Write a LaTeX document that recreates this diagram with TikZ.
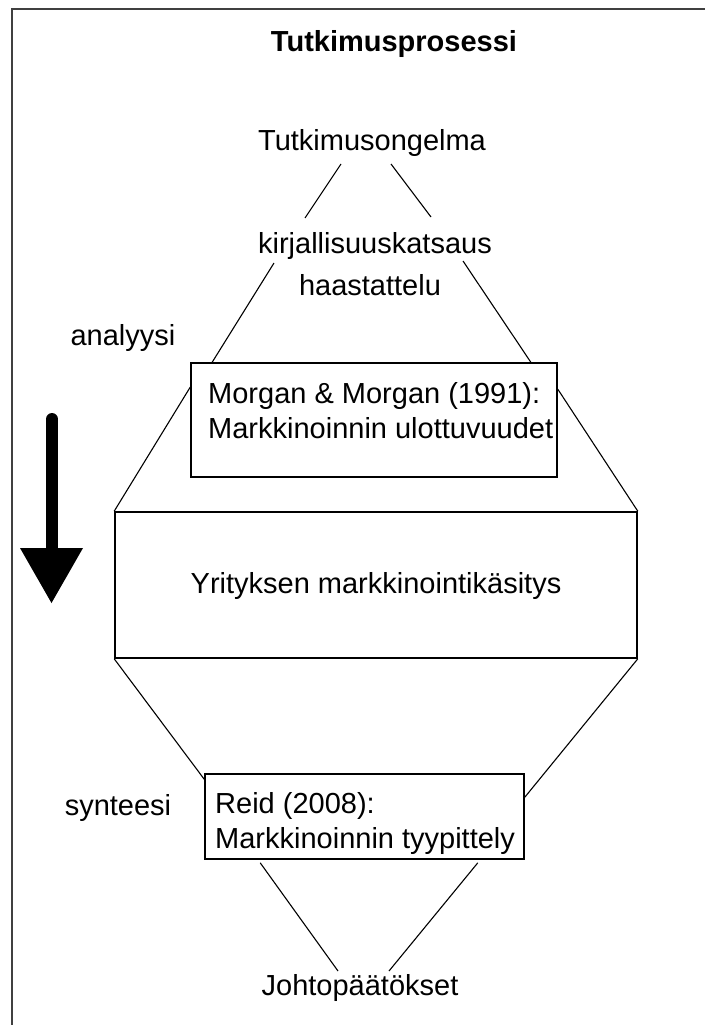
\documentclass[tikz,border=0pt]{standalone}
\usepackage{fontspec}
\setmainfont{Liberation Sans}
\usetikzlibrary{calc}
\begin{document}
\begin{tikzpicture}[x=1pt,y=-1pt,
  txt/.style={inner sep=0pt, font=\fontsize{29}{35}\selectfont},
  titletxt/.style={inner sep=0pt, font=\fontsize{29}{35}\selectfont\bfseries},
  boxstyle/.style={draw=black, line width=1.6pt, inner sep=0pt, rectangle},
  conn/.style={draw=black, line width=1.1pt},
  framestyle/.style={draw=black!75, line width=2.6pt},
  bigarrow/.style={line width=12pt, line cap=round, draw=black}
]
\useasboundingbox[fill=white] (0,0) rectangle (704,1025);
% frame
\draw[framestyle] (12,1030) -- (12,9) -- (710,9);

% title
\node[titletxt, anchor=base] (title) at (394,52) {Tutkimusprosessi};

% texts
\node[txt, anchor=base] (ongelma) at (372,150) {Tutkimusongelma};
\node[txt, anchor=base] (kirj) at (375,253) {kirjallisuuskatsaus};
\node[txt, anchor=base] (haast) at (370,295) {haastattelu};
\node[txt, anchor=base] (analyysi) at (123,345) {analyysi};
\node[txt, anchor=base] (synteesi) at (118,815) {synteesi};
\node[txt, anchor=base] (johto) at (360,995) {Johtopäätökset};

% boxes
\node[boxstyle, minimum width=366pt, minimum height=114pt] (morgan) at (374,420) {};
\node[txt, anchor=base west] (morganA) at (208,403) {Morgan \& Morgan (1991):};
\node[txt, anchor=base west] (morganB) at (208,438) {Markkinoinnin ulottuvuudet};

\node[boxstyle, minimum width=522pt, minimum height=146pt] (main) at (376,585) {};
\node[txt, anchor=base] (maintxt) at (376,593) {Yrityksen markkinointikäsitys};

\node[boxstyle, minimum width=319pt, minimum height=85pt] (reid) at (364.5,816.5) {};
\node[txt, anchor=base west] (reidA) at (215,813) {Reid (2008):};
\node[txt, anchor=base west] (reidB) at (215,848) {Markkinoinnin tyypittely};

% coordinates for free ends
\coordinate (ongL) at (341,164);
\coordinate (ongR) at (391,164);
\coordinate (kirUL) at (305,218);
\coordinate (kirUR) at (431,217);
\coordinate (kirDL) at (274,263);
\coordinate (kirDR) at (463,261);
\coordinate (johL) at (338,971);
\coordinate (johR) at (389,971);

% connectors
\draw[conn] (ongL) -- (kirUL);
\draw[conn] (ongR) -- (kirUR);
\draw[conn] (kirDL) -- ($(morgan.north west)+(22,0)$);
\draw[conn] (kirDR) -- ($(morgan.north east)+(-27,0)$);
\draw[conn] ($(morgan.north west)+(0,25)$) -- (main.north west);
\draw[conn] ($(morgan.north east)+(0,27)$) -- (main.north east);
\draw[conn] (main.south west) -- ($(reid.north west)+(0,6)$);
\draw[conn] (main.south east) -- ($(reid.north east)+(0,24)$);
\draw[conn] ($(reid.south west)+(56,3)$) -- (johL);
\draw[conn] ($(reid.south east)+(-47,3)$) -- (johR);

% big arrow
\coordinate (arrTop) at (52,419);
\coordinate (arrMid) at (52,550);
\draw[bigarrow] (arrTop) -- (arrMid);
\fill[black] (20,548) -- (83,548) -- (51.5,603) -- cycle;
\end{tikzpicture}
\end{document}
